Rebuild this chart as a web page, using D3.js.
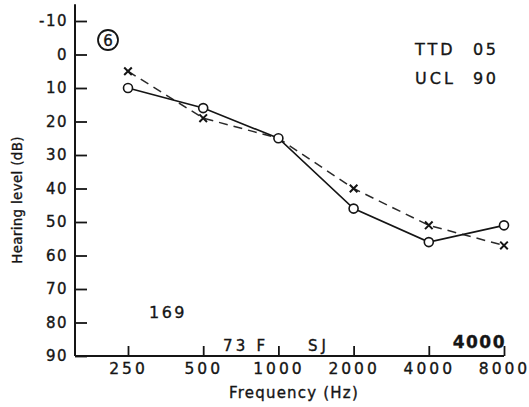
<!DOCTYPE html>
<html>
<head>
<meta charset="utf-8">
<script src="https://cdn.jsdelivr.net/npm/d3@7"></script>
<style>
  html, body { margin: 0; padding: 0; background: #fff; }
  svg { display: block; }
  text { font-family: "DejaVu Sans", sans-serif; fill: #151515; stroke: #151515; stroke-width: 0.35px; }
</style>
</head>
<body>
<svg id="chart" width="529" height="407"></svg>
<script>
// ---- data ----
const frequencies = [250, 500, 1000, 2000, 4000, 8000];
const freqLabels = ["250", "500", "1000", "2000", "4000", "8000"];
const circleSeries = [10, 16, 25, 46, 56, 51];   // solid line, "o" markers
const crossSeries  = [5, 19, 25, 40, 51, 57];    // dashed line, "x" markers
const dbTicks = [-10, 0, 10, 20, 30, 40, 50, 60, 70, 80, 90];
const annotations = [
  { text: "TTD", x: 415, y: 55, size: 16, ls: 3 },
  { text: "05", x: 473, y: 55, size: 16, ls: 2.5 },
  { text: "UCL", x: 415, y: 84, size: 16, ls: 3 },
  { text: "90", x: 473, y: 84, size: 16, ls: 2.5 },
  { text: "169", x: 149, y: 318, size: 16, ls: 2.5 },
  { text: "73  F", x: 223, y: 351, size: 15, ls: 3.2 },
  { text: "SJ", x: 308, y: 351, size: 15, ls: 4 }
];

const svg = d3.select("#chart");
const ink = "#151515";

const x = d3.scaleLog().base(2).domain([250, 8000]).range([128, 504]);
const y = d3.scaleLinear().domain([-10, 90]).range([21, 356]);
const xLeft = 75;

// ---- Y axis ----
const yAxis = d3.axisLeft(y)
  .tickValues(dbTicks)
  .tickFormat(d => String(d))
  .tickSizeInner(-12)
  .tickSizeOuter(0)
  .tickPadding(7);
const gy = svg.append("g").attr("transform", `translate(${xLeft},0)`).call(yAxis);
gy.select(".domain").remove();
gy.selectAll(".tick line").attr("stroke", ink).attr("stroke-width", 1.8);
gy.selectAll(".tick text")
  .attr("font-family", "DejaVu Sans, sans-serif")
  .attr("font-size", 15)
  .attr("letter-spacing", 1.5)
  .attr("fill", ink);
svg.append("line")
  .attr("x1", xLeft).attr("x2", xLeft)
  .attr("y1", y(-15)).attr("y2", y(90))
  .attr("stroke", ink).attr("stroke-width", 2);

// ---- X axis ----
const xAxis = d3.axisBottom(x)
  .tickValues(frequencies)
  .tickFormat((d, i) => freqLabels[i])
  .tickSizeInner(-10)
  .tickSizeOuter(0)
  .tickPadding(7);
const gx = svg.append("g").attr("transform", `translate(0,${y(90)})`).call(xAxis);
gx.select(".domain").remove();
gx.selectAll(".tick line").attr("stroke", ink).attr("stroke-width", 1.8);
gx.selectAll(".tick text")
  .attr("font-family", "DejaVu Sans, sans-serif")
  .attr("font-size", 15.5)
  .attr("letter-spacing", 3)
  .attr("fill", ink);
svg.append("line")
  .attr("x1", xLeft).attr("x2", x(8000))
  .attr("y1", y(90)).attr("y2", y(90))
  .attr("stroke", ink).attr("stroke-width", 2);

// ---- axis titles ----
svg.append("text")
  .attr("transform", `translate(22,${200}) rotate(-90)`)
  .attr("text-anchor", "middle")
  .attr("font-size", 13.5)
  .attr("letter-spacing", 0.3)
  .text("Hearing level (dB)");
svg.append("text")
  .attr("x", 294).attr("y", 398)
  .attr("text-anchor", "middle")
  .attr("font-size", 15)
  .attr("letter-spacing", 1.2)
  .text("Frequency (Hz)");

// ---- series ----
const pts = (vals) => frequencies.map((f, i) => ({ f, v: vals[i], i }));
const line = d3.line().x(d => x(d.f)).y(d => y(d.v));

svg.append("path")
  .datum(pts(crossSeries))
  .attr("d", line)
  .attr("fill", "none")
  .attr("stroke", "#2a2a2a")
  .attr("stroke-width", 1.5)
  .attr("stroke-dasharray", "9,6");

svg.append("path")
  .datum(pts(circleSeries))
  .attr("d", line)
  .attr("fill", "none")
  .attr("stroke", ink)
  .attr("stroke-width", 1.6);

// x markers (hidden where they coincide with a circle)
const crossPts = pts(crossSeries).filter(d => d.v !== circleSeries[d.i]);
const cs = 3.8;
svg.append("g").selectAll("path")
  .data(crossPts)
  .join("path")
  .attr("d", d => {
    const cx = x(d.f), cy = y(d.v);
    return `M${cx - cs},${cy - cs}L${cx + cs},${cy + cs}M${cx + cs},${cy - cs}L${cx - cs},${cy + cs}`;
  })
  .attr("stroke", ink)
  .attr("stroke-width", 2)
  .attr("fill", "none");

svg.append("g").selectAll("circle")
  .data(pts(circleSeries))
  .join("circle")
  .attr("cx", d => x(d.f))
  .attr("cy", d => y(d.v))
  .attr("r", 4.5)
  .attr("fill", "#fff")
  .attr("stroke", ink)
  .attr("stroke-width", 1.6);

// ---- annotations ----
svg.append("circle")
  .attr("cx", 108).attr("cy", 40).attr("r", 10)
  .attr("fill", "none").attr("stroke", ink).attr("stroke-width", 1.8);
svg.append("text")
  .attr("x", 108).attr("y", 45.5)
  .attr("text-anchor", "middle")
  .attr("font-size", 15)
  .text("6");

svg.append("g").selectAll("text")
  .data(annotations)
  .join("text")
  .attr("x", d => d.x).attr("y", d => d.y)
  .attr("font-size", d => d.size)
  .attr("letter-spacing", d => d.ls)
  .text(d => d.text);

svg.append("text")
  .attr("x", 506).attr("y", 348)
  .attr("text-anchor", "end")
  .attr("font-size", 17)
  .attr("font-weight", "bold")
  .attr("letter-spacing", 1.5)
  .text("4000");
</script>
</body>
</html>
